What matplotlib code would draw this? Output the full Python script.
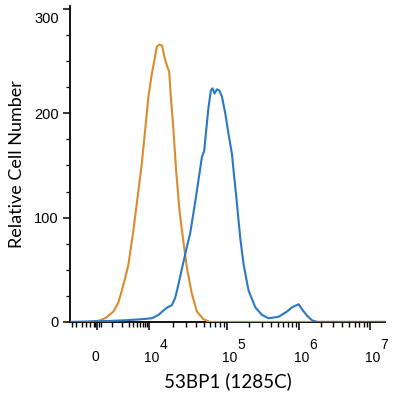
import numpy as np
import matplotlib
matplotlib.use("Agg")
import matplotlib.pyplot as plt
import matplotlib.transforms as mtransforms
from matplotlib.ticker import FixedLocator, MultipleLocator, NullFormatter

plt.rcParams["font.family"] = ["Liberation Sans", "DejaVu Sans"]

# control histogram (orange): fluorescence intensity vs cell count
control_x = [-415, 0, 174, 542, 1084, 1529, 1957, 2412, 2956, 3992, 5361, 6540,
             7930, 9590, 10830, 11690, 12550, 13550, 14680, 15710, 16870, 18050,
             18980, 20490, 22180, 24460, 27040, 30430, 35240, 40880, 49660, 60530,
             1.6e7]
control_y = [0, 1, 1.5, 4, 10, 18, 30, 42, 55, 88, 126, 152,
             184, 216, 238, 251, 264, 266, 265, 254, 246, 240,
             216, 184, 145, 107, 81, 52, 27, 10, 2.5, 0,
             0]

# 53BP1 stained histogram (blue)
stained_x = [-2266, 822, 2167, 5920, 10830, 13160, 15250, 17170, 19540, 21540,
             23750, 27040, 30430, 33550, 38880, 42850, 47390, 50720, 53800, 57590,
             61810, 64790, 68740, 73780, 78980, 85530, 94280, 104200, 116200, 122300,
             133400, 143500, 151600, 168500, 197600, 244800, 303300, 374700, 515900,
             674800, 791700, 978000, 1091000, 1284000, 1510000, 1775000, 1.6e7]
stained_y = [0, 1, 1.5, 2.5, 3.5, 6.7, 11, 14, 16, 23,
             36, 55, 72, 85, 115, 136, 158, 164, 184, 206,
             222, 224, 219, 223, 222, 216, 200, 180, 161, 145,
             120, 97, 80, 55, 30, 14, 6.7, 3.5, 5,
             10, 14, 17, 12, 6, 1.5, 0, 0]

tick_values = [0, 1e4, 1e5, 1e6, 1e7]
tick_exponents = ["", "4", "5", "6", "7"]
minor_values = [-2000, -1500, -1000, -700, -400, -200, -100, 100, 200,
                1000, 2000, 3000, 4000, 5000, 6000, 7000, 8000, 9000]
for d in [1e4, 1e5, 1e6]:
	minor_values += [k*d for k in range(2, 10)]

# cytometer display: asinh around zero, near-log decades above
U_ANCHOR = np.array([-20.0, 0.0, np.arcsinh(10), np.arcsinh(100),
                     np.arcsinh(1e3), np.arcsinh(1e4), 20.0])
P_ANCHOR = np.array([-346.9, 0.0, 52.0, 130.0, 202.0, 273.0, 584.4])


def forward(v):
	return np.interp(np.arcsinh(np.asarray(v, dtype=float)/1000), U_ANCHOR, P_ANCHOR)


def inverse(p):
	return 1000*np.sinh(np.interp(np.asarray(p, dtype=float), P_ANCHOR, U_ANCHOR))


fig = plt.figure(figsize=(4.0, 3.95), dpi=100)
ax = fig.add_axes([0.175, 0.185, 0.7875, 0.80])

ax.plot(control_x, control_y, color="#DB8B2C", lw=1.5, zorder=3)
ax.plot(stained_x, stained_y, color="#2A78C4", lw=1.5, zorder=4)

ax.set_xscale("function", functions=(forward, inverse))
ax.set_xlim(-2270, 1.6e7)
ax.set_ylim(0, 303)

ax.xaxis.set_major_locator(FixedLocator(tick_values))
ax.xaxis.set_major_formatter(NullFormatter())
ax.xaxis.set_minor_locator(FixedLocator(minor_values))
ax.xaxis.set_minor_formatter(NullFormatter())

ax.yaxis.set_major_locator(FixedLocator([0, 100, 200, 300]))
ax.yaxis.set_minor_locator(MultipleLocator(25))

for side in ["top", "right"]:
	ax.spines[side].set_visible(False)
for side in ["left", "bottom"]:
	ax.spines[side].set_linewidth(1.3)

ax.tick_params(axis="x", which="major", direction="out", length=6, width=1.1)
ax.tick_params(axis="x", which="minor", direction="out", length=3.5, width=1.0)
ax.tick_params(axis="y", which="major", direction="out", length=5, width=1.1,
               labelsize=10.5, pad=3)
ax.tick_params(axis="y", which="minor", direction="out", length=3, width=0.9)

# x tick labels written as "10" plus a full-size raised exponent
base = ax.get_xaxis_transform()
for value, exponent in zip(tick_values, tick_exponents):
	if exponent == "":
		tr = mtransforms.offset_copy(base, fig=fig, x=-2, y=-35, units="dots")
		ax.text(value, 0, "0", transform=tr, ha="center", va="center", fontsize=10)
		continue
	tr = mtransforms.offset_copy(base, fig=fig, x=-5, y=-36, units="dots")
	ax.text(value, 0, "10", transform=tr, ha="left", va="center", fontsize=10)
	tr = mtransforms.offset_copy(base, fig=fig, x=10, y=-23, units="dots")
	ax.text(value, 0, exponent, transform=tr, ha="left", va="center", fontsize=10)

ax.set_xlabel("53BP1 (1285C)", fontsize=13.5, family=["Lato", "DejaVu Sans"], va="center")
ax.xaxis.set_label_coords(0.5, -0.187)
ax.set_ylabel("Relative Cell Number", fontsize=13, family=["Lato", "DejaVu Sans"], labelpad=7)

# the top y label sits a little below its tick in the reference
top_label = ax.get_yticklabels()[-1]
top_label.set_transform(top_label.get_transform() +
                        mtransforms.ScaledTranslation(0, -8/100, fig.dpi_scale_trans))

plt.savefig("out.png", dpi=100)
plt.close()
